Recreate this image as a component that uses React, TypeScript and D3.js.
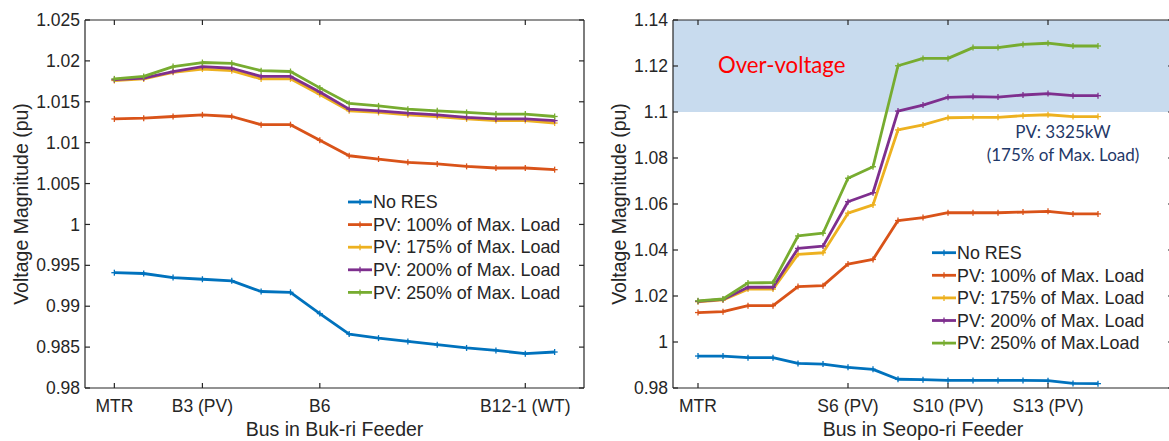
import React from "react";
import * as d3 from "d3";

// ---------- Data ----------
const leftSeriesNames = [
  "No RES",
  "PV: 100% of Max. Load",
  "PV: 175% of Max. Load",
  "PV: 200% of Max. Load",
  "PV: 250% of Max. Load",
];
const rightSeriesNames = [
  "No RES",
  "PV: 100% of Max. Load",
  "PV: 175% of Max. Load",
  "PV: 200% of Max. Load",
  "PV: 250% of Max.Load",
];
const seriesColors = ["#0072BD", "#D95319", "#EDB120", "#7E2F8E", "#77AC30"];

// Buk-ri feeder (16 buses)
const bukNoRes = [0.9941, 0.994, 0.9935, 0.9933, 0.9931, 0.9918, 0.9917, 0.9891, 0.9866, 0.9861, 0.9857, 0.9853, 0.9849, 0.9846, 0.9842, 0.9844];
const bukPv100 = [1.0129, 1.0130, 1.0132, 1.0134, 1.0132, 1.0122, 1.0122, 1.0103, 1.0084, 1.0080, 1.0076, 1.0074, 1.0071, 1.0069, 1.0069, 1.0067];
const bukPv175 = [1.0176, 1.0178, 1.0186, 1.0190, 1.0188, 1.0178, 1.0178, 1.0159, 1.0139, 1.0137, 1.0134, 1.0132, 1.0129, 1.0127, 1.0127, 1.0124];
const bukPv200 = [1.0177, 1.0179, 1.0187, 1.0193, 1.0191, 1.0181, 1.0181, 1.0162, 1.0141, 1.0139, 1.0136, 1.0134, 1.0131, 1.0129, 1.0129, 1.0127];
const bukPv250 = [1.0178, 1.0181, 1.0193, 1.0198, 1.0197, 1.0188, 1.0187, 1.0167, 1.0148, 1.0145, 1.0141, 1.0139, 1.0137, 1.0135, 1.0135, 1.0132];

// Seopo-ri feeder (17 buses)
const seoNoRes = [0.9939, 0.9939, 0.9932, 0.9932, 0.9907, 0.9904, 0.9890, 0.9881, 0.9838, 0.9836, 0.9833, 0.9833, 0.9833, 0.9833, 0.9832, 0.9820, 0.9819];
const seoPv100 = [1.0128, 1.0132, 1.0158, 1.0158, 1.0241, 1.0245, 1.0339, 1.0359, 1.0528, 1.0541, 1.0562, 1.0562, 1.0562, 1.0565, 1.0568, 1.0557, 1.0557];
const seoPv175 = [1.0175, 1.0183, 1.0230, 1.0230, 1.0381, 1.0388, 1.0560, 1.0596, 1.0922, 1.0944, 1.0975, 1.0977, 1.0977, 1.0984, 1.0988, 1.0980, 1.0980];
const seoPv200 = [1.0177, 1.0185, 1.0238, 1.0238, 1.0407, 1.0417, 1.0610, 1.0649, 1.1004, 1.1030, 1.1064, 1.1067, 1.1065, 1.1074, 1.1080, 1.1071, 1.1071];
const seoPv250 = [1.0179, 1.0187, 1.0257, 1.0258, 1.0461, 1.0473, 1.0712, 1.0762, 1.1201, 1.1233, 1.1233, 1.1280, 1.1280, 1.1294, 1.1299, 1.1287, 1.1287];

const leftXTickIdx = [1, 4, 8, 15];
const leftXTickLabels = ["MTR", "B3 (PV)", "B6", "B12-1 (WT)"];
const rightXTickIdx = [1, 7, 11, 15];
const rightXTickLabels = ["MTR", "S6 (PV)", "S10 (PV)", "S13 (PV)"];
const leftYTicks = [0.98, 0.985, 0.99, 0.995, 1, 1.005, 1.01, 1.015, 1.02, 1.025];
const leftYTickLabels = ["0.98", "0.985", "0.99", "0.995", "1", "1.005", "1.01", "1.015", "1.02", "1.025"];
const rightYTicks = [0.98, 1, 1.02, 1.04, 1.06, 1.08, 1.1, 1.12, 1.14];
const rightYTickLabels = ["0.98", "1", "1.02", "1.04", "1.06", "1.08", "1.1", "1.12", "1.14"];
const overVoltageLimit = 1.1;

const FONT = "'Liberation Sans', Arial, Helvetica, sans-serif";
const AXIS_COLOR = "#262626";

type PanelProps = {
  x0: number;
  x1: number;
  xDomain: [number, number];
  yDomain: [number, number];
  series: number[][];
  names: string[];
  xTickIdx: number[];
  xTickLabels: string[];
  yTicks: number[];
  yTickLabels: string[];
  xLabel: string;
  yLabelX: number;
  legendX: number;
  legendY: number;
  shade?: boolean;
};

const TOP = 20;
const BOTTOM = 388;

function Plus({ x, y, color }: { x: number; y: number; color: string }) {
  const s = 3;
  return (
    <g stroke={color} strokeWidth={1.3}>
      <line x1={x - s} x2={x + s} y1={y} y2={y} />
      <line x1={x} x2={x} y1={y - s} y2={y + s} />
    </g>
  );
}

function Panel(p: PanelProps) {
  const xs = d3.scaleLinear().domain(p.xDomain).range([p.x0, p.x1]);
  const ys = d3.scaleLinear().domain(p.yDomain).range([BOTTOM, TOP]);
  const line = d3
    .line<number>()
    .x((_, i) => xs(i + 1))
    .y((d) => ys(d));
  const tickLen = 5;
  return (
    <g>
      {p.shade && (
        <rect
          x={p.x0}
          y={ys(p.yDomain[1])}
          width={p.x1 - p.x0}
          height={ys(overVoltageLimit) - ys(p.yDomain[1])}
          fill="#c8dbee"
        />
      )}
      {p.series.map((s, k) => (
        <g key={k}>
          <path d={line(s) || ""} fill="none" stroke={seriesColors[k]} strokeWidth={2.8} strokeLinejoin="round" />
          {s.map((v, i) => (
            <Plus key={i} x={xs(i + 1)} y={ys(v)} color={seriesColors[k]} />
          ))}
        </g>
      ))}
      {/* axes box */}
      <g stroke={AXIS_COLOR} strokeWidth={1.2} fill="none">
        <line x1={p.x0} x2={p.x1} y1={TOP} y2={TOP} />
        <line x1={p.x0} x2={p.x1} y1={BOTTOM} y2={BOTTOM} />
        <line x1={p.x0} x2={p.x0} y1={TOP} y2={BOTTOM} />
        <line x1={p.x1} x2={p.x1} y1={TOP} y2={BOTTOM} />
        {p.xTickIdx.map((t, i) => (
          <g key={i}>
            <line x1={xs(t)} x2={xs(t)} y1={BOTTOM} y2={BOTTOM - tickLen} />
            <line x1={xs(t)} x2={xs(t)} y1={TOP} y2={TOP + tickLen} />
          </g>
        ))}
        {p.yTicks.map((t, i) => (
          <g key={i}>
            <line x1={p.x0} x2={p.x0 + tickLen} y1={ys(t)} y2={ys(t)} />
            <line x1={p.x1} x2={p.x1 - tickLen} y1={ys(t)} y2={ys(t)} />
          </g>
        ))}
      </g>
      <g fontFamily={FONT} fontSize={17.5} fill={AXIS_COLOR}>
        {p.xTickIdx.map((t, i) => (
          <text key={i} x={xs(t)} y={412} textAnchor="middle">
            {p.xTickLabels[i]}
          </text>
        ))}
        {p.yTicks.map((t, i) => (
          <text key={i} x={p.x0 - 5} y={ys(t)} dy="0.35em" textAnchor="end">
            {p.yTickLabels[i]}
          </text>
        ))}
      </g>
      <text
        x={(p.x0 + p.x1) / 2}
        y={436}
        textAnchor="middle"
        fontFamily={FONT}
        fontSize={19.5}
        fill={AXIS_COLOR}
      >
        {p.xLabel}
      </text>
      <text
        transform={`translate(${p.yLabelX},${(TOP + BOTTOM) / 2}) rotate(-90)`}
        textAnchor="middle"
        fontFamily={FONT}
        fontSize={19.5}
        fill={AXIS_COLOR}
      >
        Voltage Magnitude (pu)
      </text>
      {/* legend */}
      <g fontFamily={FONT} fontSize={17.9} fill={AXIS_COLOR}>
        {p.names.map((n, k) => {
          const y = p.legendY + k * 22.6;
          return (
            <g key={k}>
              <line x1={p.legendX} x2={p.legendX + 24} y1={y} y2={y} stroke={seriesColors[k]} strokeWidth={2.8} />
              <Plus x={p.legendX + 12} y={y} color={seriesColors[k]} />
              <text x={p.legendX + 25} y={y} dy="0.35em">
                {n}
              </text>
            </g>
          );
        })}
      </g>
    </g>
  );
}

export default function App() {
  return (
    <svg
      width={1169}
      height={441}
      style={{ position: "absolute", left: 0, top: 0, background: "#fff" }}
    >
      <rect x={0} y={0} width={1169} height={441} fill="#fff" />
      <Panel
        x0={85}
        x1={584}
        xDomain={[0, 17]}
        yDomain={[0.98, 1.025]}
        series={[bukNoRes, bukPv100, bukPv175, bukPv200, bukPv250]}
        names={leftSeriesNames}
        xTickIdx={leftXTickIdx}
        xTickLabels={leftXTickLabels}
        yTicks={leftYTicks}
        yTickLabels={leftYTickLabels}
        xLabel="Bus in Buk-ri Feeder"
        yLabelX={28}
        legendX={348}
        legendY={202}
      />
      <Panel
        x0={673}
        x1={1173}
        xDomain={[0, 20]}
        yDomain={[0.98, 1.14]}
        series={[seoNoRes, seoPv100, seoPv175, seoPv200, seoPv250]}
        names={rightSeriesNames}
        xTickIdx={rightXTickIdx}
        xTickLabels={rightXTickLabels}
        yTicks={rightYTicks}
        yTickLabels={rightYTickLabels}
        xLabel="Bus in Seopo-ri Feeder"
        yLabelX={626}
        legendX={932}
        legendY={252.7}
        shade
      />
      <text x={718} y={73} fontFamily="Lato, 'Open Sans', sans-serif" fontSize={22.2} fill="#ff0000">
        Over-voltage
      </text>
      <g fontFamily="Lato, 'Open Sans', sans-serif" fontSize={17} fill="#1f3868" textAnchor="middle">
        <text x={1063} y={138}>PV: 3325kW</text>
        <text x={1063} y={161}>(175% of Max. Load)</text>
      </g>
    </svg>
  );
}
